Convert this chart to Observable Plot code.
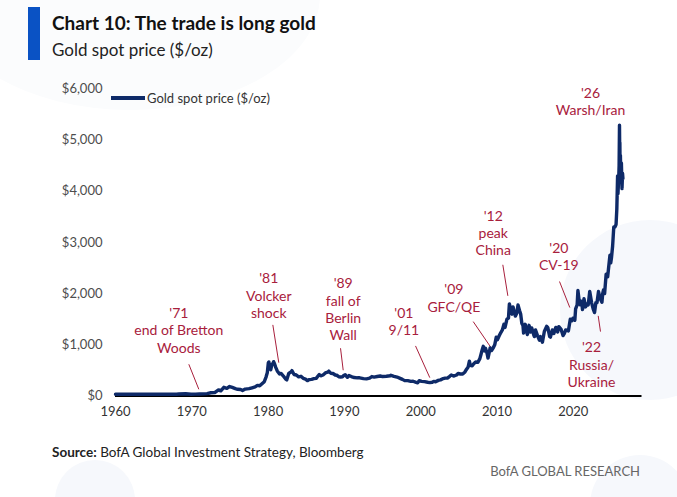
<!DOCTYPE html>
<html>
<head>
<meta charset="utf-8">
<script src="https://cdn.jsdelivr.net/npm/d3@7"></script>
<script src="https://cdn.jsdelivr.net/npm/@observablehq/plot@0.6"></script>
<style>
  html, body { margin: 0; padding: 0; background: #fff; }
  #wrap { position: relative; width: 677px; height: 497px; overflow: hidden; background: #fff; font-family: Lato, "Open Sans", sans-serif; }
  .deco { position: absolute; border-radius: 50%; background: #f6f8fc; }
  #bar { position: absolute; left: 28px; top: 7px; width: 12px; height: 53px; background: #0a52c4; }
  #title { position: absolute; left: 52px; top: 11px; font-size: 19px; line-height: 23px; font-weight: 700; color: #111; white-space: nowrap; }
  #subtitle { position: absolute; left: 52px; top: 40px; font-size: 17px; line-height: 20px; color: #222; white-space: nowrap; }
  #chart { position: absolute; left: 0; top: 70px; }
  #legend { position: absolute; left: 111px; top: 89px; height: 18px; display: flex; align-items: center; font-size: 13px; color: #333; white-space: nowrap; }
  #legend .sw { width: 34px; height: 3.5px; background: #0e2a68; margin-right: 2px; }
  #source { position: absolute; left: 52px; top: 444px; font-size: 13.5px; line-height: 16px; color: #222; white-space: nowrap; }
  #brand { position: absolute; right: 37px; top: 463px; font-size: 13px; line-height: 16px; color: #666; white-space: nowrap; }
</style>
</head>
<body>
<div id="wrap">
  <div class="deco" style="left:-60px;top:-120px;width:380px;height:230px;background:#fbfcfd"></div>
  <div class="deco" style="left:560px;top:220px;width:180px;height:180px"></div>
  <div class="deco" style="left:55px;top:460px;width:80px;height:80px"></div>
  <div class="deco" style="left:590px;top:455px;width:100px;height:100px"></div>
  <div id="bar"></div>
  <div id="title">Chart 10: The trade is long gold</div>
  <div id="subtitle">Gold spot price ($/oz)</div>
  <div id="chart"></div>
  <div id="legend"><div class="sw"></div><span>Gold spot price ($/oz)</span></div>
  <div id="source"><b>Source:</b> BofA Global Investment Strategy, Bloomberg</div>
  <div id="brand">BofA GLOBAL RESEARCH</div>
</div>
<script>
// ---- Gold spot price, $/oz (decimal year, price) ----
const dates = [
  1960.0, 1962.0, 1964.0, 1966.0, 1968.0, 1968.3, 1969.2, 1969.9, 1970.5, 1971.0,
  1971.6, 1972.0, 1972.5, 1973.0, 1973.5, 1973.8, 1974.2, 1974.6, 1974.95, 1975.3,
  1975.7, 1976.0, 1976.4, 1976.65, 1977.0, 1977.5, 1977.9, 1978.3, 1978.6, 1978.9,
  1979.2, 1979.5, 1979.75, 1979.9, 1980.03, 1980.1, 1980.2, 1980.35, 1980.5, 1980.65,
  1980.72, 1980.85, 1981.0, 1981.2, 1981.5, 1981.7, 1982.0, 1982.3, 1982.45, 1982.7,
  1983.0, 1983.12, 1983.4, 1983.7, 1984.0, 1984.3, 1984.6, 1984.9, 1985.15, 1985.4,
  1985.7, 1986.0, 1986.3, 1986.7, 1986.9, 1987.2, 1987.5, 1987.8, 1987.95, 1988.2,
  1988.5, 1988.8, 1989.0, 1989.3, 1989.5, 1989.75, 1989.95, 1990.1, 1990.4, 1990.6,
  1990.9, 1991.3, 1991.7, 1992.0, 1992.5, 1992.9, 1993.3, 1993.6, 1993.9, 1994.3,
  1994.7, 1995.0, 1995.5, 1996.0, 1996.1, 1996.5, 1996.9, 1997.3, 1997.6, 1997.9,
  1998.3, 1998.7, 1999.0, 1999.4, 1999.6, 1999.8, 2000.1, 2000.5, 2000.9, 2001.2,
  2001.5, 2001.7, 2001.95, 2002.3, 2002.6, 2002.95, 2003.2, 2003.5, 2003.8, 2004.0,
  2004.3, 2004.7, 2004.9, 2005.2, 2005.5, 2005.8, 2005.95, 2006.2, 2006.38, 2006.5,
  2006.75, 2006.95, 2007.2, 2007.5, 2007.75, 2007.88, 2008.05, 2008.2, 2008.35, 2008.5,
  2008.7, 2008.82, 2008.95, 2009.1, 2009.3, 2009.5, 2009.7, 2009.9, 2010.05, 2010.3,
  2010.5, 2010.7, 2010.9, 2011.05, 2011.3, 2011.5, 2011.62, 2011.7, 2011.8, 2011.95,
  2012.1, 2012.3, 2012.4, 2012.6, 2012.75, 2012.95, 2013.1, 2013.25, 2013.4, 2013.48,
  2013.6, 2013.7, 2013.85, 2013.98, 2014.2, 2014.4, 2014.55, 2014.8, 2014.9, 2015.05,
  2015.3, 2015.55, 2015.7, 2015.95, 2016.2, 2016.5, 2016.65, 2016.9, 2017.0, 2017.25,
  2017.45, 2017.7, 2017.95, 2018.1, 2018.4, 2018.65, 2018.85, 2019.0, 2019.35, 2019.6,
  2019.8, 2019.95, 2020.2, 2020.3, 2020.5, 2020.6, 2020.75, 2020.9, 2021.1, 2021.2,
  2021.4, 2021.6, 2021.8, 2021.95, 2022.15, 2022.4, 2022.6, 2022.78, 2022.95, 2023.1,
  2023.3, 2023.5, 2023.75, 2023.85, 2023.95, 2024.1, 2024.3, 2024.5, 2024.6, 2024.8,
  2024.9, 2025.0, 2025.15, 2025.3, 2025.45, 2025.6, 2025.7, 2025.8, 2025.85, 2025.95,
  2026.0, 2026.05, 2026.08, 2026.1, 2026.13, 2026.17, 2026.22, 2026.3, 2026.38, 2026.45,
  2026.5
];
const prices = [
  35, 35, 35, 35, 35, 39, 43, 35, 36, 38,
  42, 46, 63, 65, 120, 100, 170, 150, 185, 167,
  143, 131, 126, 108, 135, 143, 161, 178, 208, 200,
  240, 280, 380, 460, 650, 665, 560, 515, 620, 640,
  670, 625, 560, 490, 430, 440, 390, 330, 315, 440,
  470, 495, 420, 410, 375, 385, 345, 330, 300, 320,
  325, 340, 345, 420, 395, 410, 450, 465, 485, 445,
  440, 410, 405, 375, 370, 375, 405, 415, 365, 400,
  380, 360, 355, 355, 340, 335, 350, 380, 370, 380,
  390, 380, 385, 395, 405, 385, 370, 345, 325, 300,
  300, 285, 288, 265, 256, 300, 285, 280, 268, 262,
  268, 285, 278, 305, 315, 340, 350, 350, 385, 410,
  390, 410, 440, 430, 430, 470, 510, 560, 680, 600,
  590, 630, 665, 660, 730, 800, 900, 970, 880, 930,
  830, 740, 830, 940, 890, 940, 1000, 1150, 1100, 1180,
  1240, 1290, 1400, 1340, 1500, 1520, 1800, 1750, 1620, 1600,
  1740, 1620, 1560, 1620, 1780, 1670, 1600, 1420, 1380, 1230,
  1320, 1400, 1270, 1200, 1380, 1250, 1330, 1200, 1160, 1290,
  1180, 1090, 1160, 1050, 1260, 1360, 1340, 1160, 1150, 1290,
  1220, 1340, 1250, 1355, 1300, 1180, 1230, 1290, 1270, 1500,
  1470, 1520, 1480, 1700, 1780, 2060, 1880, 1780, 1850, 1690,
  1900, 1740, 1800, 1780, 2040, 1820, 1700, 1630, 1820, 1820,
  2040, 1910, 1830, 2000, 2070, 2000, 2380, 2330, 2470, 2750,
  2600, 2700, 2930, 3300, 3300, 3350, 3650, 4300, 3950, 4250,
  4500, 5290, 4800, 4950, 4400, 4700, 4300, 4550, 4050, 4350,
  4250
];

// ---- Axis ticks ----
const xTicks = [1960, 1970, 1980, 1990, 2000, 2010, 2020];
const yTicks = [0, 1000, 2000, 3000, 4000, 5000, 6000];

// ---- Annotations (label block centre, in data units) ----
const annLabels = [
  "'71\nend of Bretton\nWoods",
  "'81\nVolcker\nshock",
  "'89\nfall of\nBerlin\nWall",
  "'01\n9/11",
  "'09\nGFC/QE",
  "'12\npeak\nChina",
  "'20\nCV-19",
  "'22\nRussia/\nUkraine",
  "'26\nWarsh/Iran"
];
const annX = [1968.3, 1980.09, 1989.84, 1997.79, 2004.34, 2009.5, 2018.1, 2022.38, 2022.25];
const annY = [1291, 1970, 1705, 1467, 1924, 3194, 2733, 620, 5764];

// ---- Leader lines (start -> end, data units) ----
const leadX1 = [1969.61, 1980.62, 1989.49, 1999.32, 2006.88, 2010.76, 2018.19, 2023.26];
const leadY1 = [620, 1389, 933, 978, 1453, 2563, 2236, 1565];
const leadX2 = [1970.92, 1981.40, 1989.84, 2001.19, 2009.15, 2011.42, 2019.54, 2023.56];
const leadY2 = [131, 651, 503, 358, 959, 1956, 1727, 1258];

const series = dates.map((d, i) => ({date: d, price: prices[i]}));
const anns = annLabels.map((t, i) => ({label: t, x: annX[i], y: annY[i]}));
const leads = leadX1.map((x, i) => ({x1: x, y1: leadY1[i], x2: leadX2[i], y2: leadY2[i]}));

const RED = "#a8203c";
const NAVY = "#0e2a68";

const chart = Plot.plot({
  width: 677,
  height: 360,
  marginLeft: 115,
  marginRight: 35.5,
  marginTop: 18.3,
  marginBottom: 34.5,
  style: {fontFamily: "Lato, 'Open Sans', sans-serif", background: "transparent", overflow: "visible"},
  x: {domain: [1960, 2029]},
  y: {domain: [0, 6000]},
  marks: [
    Plot.axisX({ticks: xTicks, tickFormat: d => String(d), tickSize: 0, tickPadding: 11, fontSize: 13, color: "#333", label: null}),
    Plot.axisY({ticks: yTicks, tickFormat: d => "$" + d3.format(",")(d), tickSize: 0, tickPadding: 13, fontSize: 13, color: "#4d4d4d", label: null}),
    Plot.ruleY([0], {stroke: "#000", strokeWidth: 2}),
    Plot.link(leads, {x1: "x1", y1: "y1", x2: "x2", y2: "y2", stroke: RED, strokeWidth: 1}),
    Plot.line(series, {x: "date", y: "price", stroke: NAVY, strokeWidth: 3.4, strokeLinejoin: "round", strokeLinecap: "round"}),
    Plot.text(anns, {x: "x", y: "y", text: "label", fill: RED, fontSize: 14, lineHeight: 1.24, lineAnchor: "middle", textAnchor: "middle"})
  ]
});
document.getElementById("chart").appendChild(chart);
</script>
</body>
</html>
